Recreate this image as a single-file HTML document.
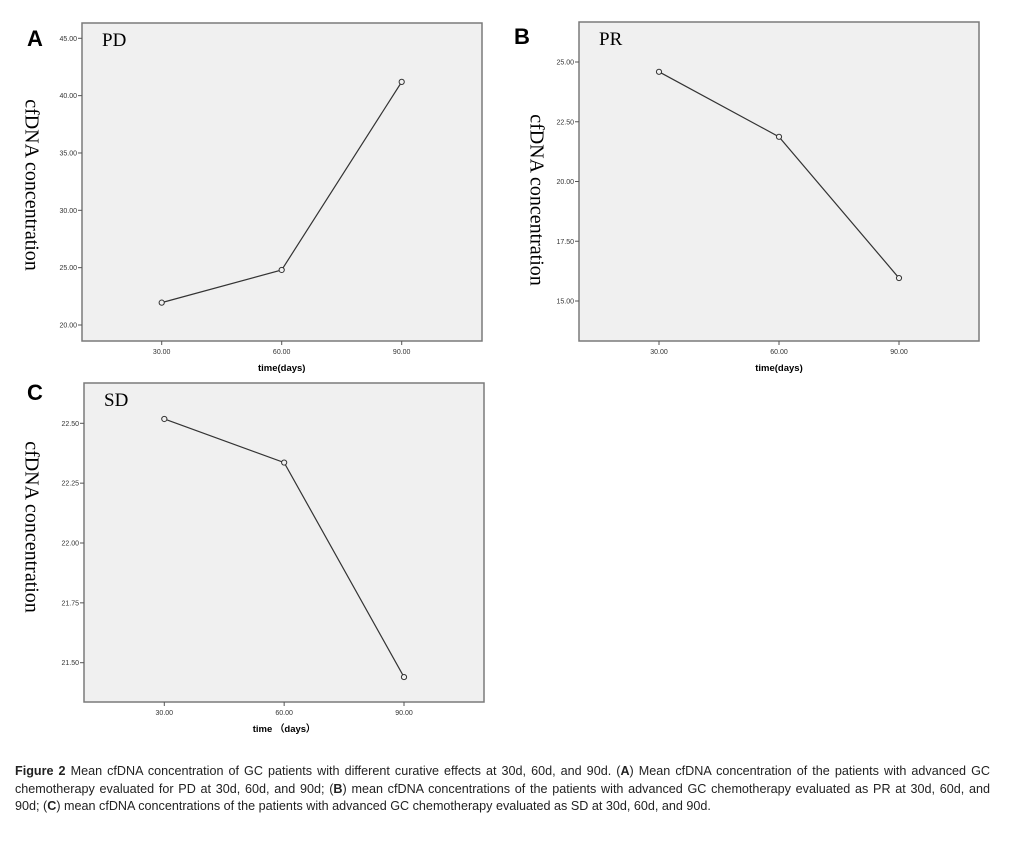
<!DOCTYPE html>
<html><head><meta charset="utf-8"><style>
body{margin:0;background:#fff;width:1017px;height:847px;overflow:hidden;font-family:"Liberation Sans",sans-serif}
#cap{position:absolute;left:15px;top:763px;width:975px;font-size:12.6px;line-height:17.5px;color:#222}
#cap .j{text-align:justify;text-align-last:justify;white-space:nowrap}
#cap div{white-space:normal}
</style></head><body>
<svg id="fig" width="1017" height="760" style="position:absolute;left:0;top:0"></svg>
<div id="cap">
<div class="j"><b>Figure 2</b> Mean cfDNA concentration of GC patients with different curative effects at 30d, 60d, and 90d. (<b>A</b>) Mean cfDNA concentration of the patients with advanced GC</div>
<div class="j">chemotherapy evaluated for PD at 30d, 60d, and 90d; (<b>B</b>) mean cfDNA concentrations of the patients with advanced GC chemotherapy evaluated as PR at 30d, 60d, and</div>
<div>90d; (<b>C</b>) mean cfDNA concentrations of the patients with advanced GC chemotherapy evaluated as SD at 30d, 60d, and 90d.</div>
</div>
<script>
const categories=[30,60,90];
const pdValues=[21.95,24.8,41.2];
const prValues=[24.59,21.87,15.96];
const sdValues=[22.518,22.336,21.44];
const pdTicks=[20,25,30,35,40,45];
const prTicks=[15,17.5,20,22.5,25];
const sdTicks=[21.5,21.75,22,22.25,22.5];
const xTickLabels=["30.00","60.00","90.00"];
const panels=[
 {id:'a',letter:'A',title:'PD',vals:pdValues,ticks:pdTicks,box:[82,23,482,341],y0:20,py0:325,y1:45,py1:38.3,x30:161.7,x90:401.7,lx:35,ly:46,ytx:30,yty:185,xlab:'time(days)',xly:371},
 {id:'b',letter:'B',title:'PR',vals:prValues,ticks:prTicks,box:[579,22,979,341],y0:15,py0:301,y1:25,py1:62,x30:659,x90:899,lx:522,ly:44,ytx:535,yty:200,xlab:'time(days)',xly:371},
 {id:'c',letter:'C',title:'SD',vals:sdValues,ticks:sdTicks,box:[84,383,484,702],y0:21.5,py0:662.7,y1:22.5,py1:423.3,x30:164.3,x90:404,lx:35,ly:400,ytx:30,yty:527,xlab:'time （days）',xly:732}
];
const svg=document.getElementById('fig');
const NS='http://www.w3.org/2000/svg';
function mk(t,a,txt){const e=document.createElementNS(NS,t);for(const k in a)e.setAttribute(k,a[k]);if(txt!==undefined)e.textContent=txt;svg.appendChild(e);return e;}
panels.forEach(p=>{
 const ys=v=>p.py0+(v-p.y0)*(p.py1-p.py0)/(p.y1-p.y0);
 const xs=v=>p.x30+(v-30)*(p.x90-p.x30)/60;
 const [x0,y0,x1,y1]=p.box;
 let e=mk('rect',{x:x0,y:y0,width:x1-x0,height:y1-y0,fill:'#f0f0f0',stroke:'#7a7a7a','stroke-width':1.5});
 
 
 e=mk('text',{x:p.lx,y:p.ly,'font-size':22,'font-weight':'bold','text-anchor':'middle','font-family':'Liberation Sans'},p.letter);
 
 
 e=mk('text',{x:x0+20,y:y0+23,'font-size':19,'font-family':'Liberation Serif'},p.title);
 
 
 p.ticks.forEach(t=>{
  const y=ys(t);
  let l=mk('line',{x1:x0-4,x2:x0,y1:y,y2:y,stroke:'#555'});
  
  
  let tx=mk('text',{x:x0-5,y:y+2.5,'font-size':7,'text-anchor':'end',fill:'#333'},t.toFixed(2));
  
  
 });
 categories.forEach((c,i)=>{
  const x=xs(c);
  let l=mk('line',{x1:x,x2:x,y1:y1,y2:y1+4,stroke:'#555'});
  
  
  let tx=mk('text',{x:x,y:y1+13,'font-size':7,'text-anchor':'middle',fill:'#333'},xTickLabels[i]);
  
  
 });
 e=mk('text',{x:(xs(30)+xs(90))/2,y:p.xly,'font-size':9.5,'font-weight':'bold','text-anchor':'middle'},p.xlab);
 
 
 e=mk('text',{x:p.ytx,y:p.yty,'font-size':20,'text-anchor':'middle','font-family':'Liberation Serif',transform:`rotate(90 ${p.ytx} ${p.yty})`,'dominant-baseline':'middle'},'cfDNA concentration');
 
 
 const pts=categories.map((c,i)=>xs(c)+','+ys(p.vals[i])).join(' ');
 e=mk('polyline',{points:pts,fill:'none',stroke:'#333','stroke-width':1.2});
 
 
 categories.forEach((c,i)=>{
  let m=mk('circle',{cx:xs(c),cy:ys(p.vals[i]),r:2.6,fill:'#f0f0f0',stroke:'#333','stroke-width':1});
  
  
 });
});
</script>
</body></html>
